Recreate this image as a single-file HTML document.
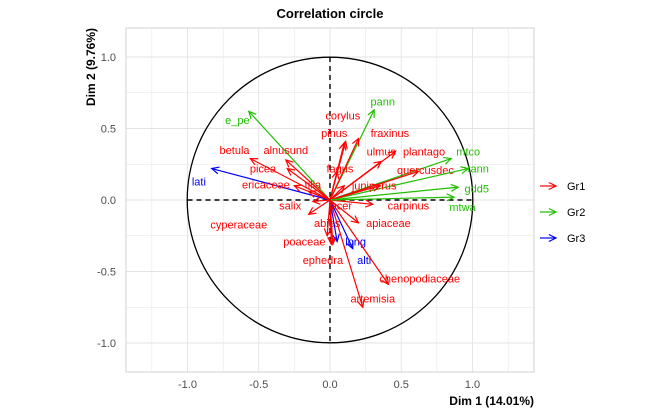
<!DOCTYPE html>
<html><head><meta charset="utf-8"><style>
body{margin:0;background:#fff;font-family:"Liberation Sans",sans-serif}
svg text{font-family:"Liberation Sans",sans-serif}
</style></head><body>
<svg id="c" width="671" height="414" xmlns="http://www.w3.org/2000/svg"></svg>
<script>
const names=["e_pe","pann","corylus","pinus","fraxinus","ulmus","plantago","mtco","quercusdec","tann","betula","alnusund","picea","fagus","lati","ericaceae","tilia","juniperus","gdd5","salix","acer","carpinus","mtwa","cyperaceae","abies","apiaceae","poaceae","long","ephedra","alti","chenopodiaceae","artemisia"];
const groups=["Gr2","Gr2","Gr1","Gr1","Gr1","Gr1","Gr1","Gr2","Gr1","Gr2","Gr1","Gr1","Gr1","Gr1","Gr3","Gr1","Gr1","Gr1","Gr2","Gr1","Gr1","Gr1","Gr2","Gr1","Gr1","Gr1","Gr1","Gr3","Gr1","Gr3","Gr1","Gr1"];
const dim1=[-0.57,0.31,0.11,0.10,0.20,0.36,0.46,0.85,0.62,0.97,-0.56,-0.31,-0.30,0.05,-0.83,-0.25,-0.15,0.35,0.90,-0.12,0.10,0.30,0.87,-0.15,0.01,0.20,-0.02,0.05,0.02,0.16,0.41,0.23];
const dim2=[0.62,0.63,0.41,0.40,0.43,0.27,0.34,0.29,0.20,0.22,0.29,0.28,0.22,0.20,0.22,0.10,0.06,0.10,0.09,-0.01,0.10,-0.03,0.02,-0.10,-0.31,-0.16,-0.25,-0.29,-0.31,-0.34,-0.59,-0.75];
const labX=[-0.65,0.37,0.09,0.03,0.42,0.36,0.66,0.97,0.67,1.04,-0.67,-0.31,-0.47,0.07,-0.92,-0.45,-0.12,0.31,1.03,-0.28,0.08,0.55,0.93,-0.64,-0.02,0.41,-0.18,0.18,-0.05,0.24,0.63,0.30];
const labY=[0.56,0.69,0.59,0.47,0.47,0.34,0.34,0.34,0.21,0.22,0.35,0.35,0.22,0.22,0.13,0.11,0.11,0.10,0.08,-0.04,-0.04,-0.04,-0.05,-0.17,-0.16,-0.16,-0.29,-0.29,-0.42,-0.42,-0.55,-0.69];
const ticks=[-1.0,-0.5,0.0,0.5,1.0];
const tickLabels=["-1.0","-0.5","0.0","0.5","1.0"];
const legendGroups=["Gr1","Gr2","Gr3"];
const colors={Gr1:"#ff0000",Gr2:"#1fbf00",Gr3:"#0000ff"};
const svg=document.getElementById('c');const NS="http://www.w3.org/2000/svg";
const X=v=>330+v*142.5, Y=v=>200-v*143;
function el(t,a,p){const e=document.createElementNS(NS,t);for(const k in a)e.setAttribute(k,a[k]);(p||svg).appendChild(e);return e;}
const L=126,R=534,T=28,B=372;
const grid=el('g',{});


for(let v=-1.25;v<=1.3;v+=0.25){const major=Math.abs(v*2-Math.round(v*2))<1e-6;
 const sw=major?0.9:0.5;
 if(X(v)>L&&X(v)<R)el('line',{x1:X(v),x2:X(v),y1:T,y2:B,stroke:'#e3e3e3','stroke-width':sw},grid);
 if(Y(v)>T&&Y(v)<B)el('line',{y1:Y(v),y2:Y(v),x1:L,x2:R,stroke:'#e3e3e3','stroke-width':sw},grid);}
const frame=el('rect',{x:L,y:T,width:R-L,height:B-T,fill:'none',stroke:'#d0d0d0','stroke-width':1});


ticks.forEach((t,i)=>{
 const a=el('text',{x:X(t),y:388,'font-size':11,fill:'#4d4d4d','text-anchor':'middle'});a.textContent=tickLabels[i];
 
 
 const b=el('text',{x:116,y:Y(t)+4,'font-size':11,fill:'#4d4d4d','text-anchor':'end'});b.textContent=tickLabels[i];
 
 
});
const circ=el('circle',{cx:X(0),cy:Y(0),r:142.8,fill:'none',stroke:'#000','stroke-width':1.3});


const h=el('line',{x1:X(-1),x2:X(1),y1:Y(0),y2:Y(0),stroke:'#000','stroke-width':1.4,'stroke-dasharray':'5,4'});


const v0=el('line',{x1:X(0),x2:X(0),y1:Y(1),y2:Y(-1),stroke:'#000','stroke-width':1.4,'stroke-dasharray':'5,4'});


function arrow(x1,y1,x2,y2,c,g){
 el('line',{x1,y1,x2,y2,stroke:c,'stroke-width':1.2},g);
 const a=Math.atan2(y2-y1,x2-x1),s=8,w=0.45;
 el('polyline',{points:`${x2-s*Math.cos(a-w)},${y2-s*Math.sin(a-w)} ${x2},${y2} ${x2-s*Math.cos(a+w)},${y2-s*Math.sin(a+w)}`,fill:'none',stroke:c,'stroke-width':1.2},g);
}
names.forEach((n,i)=>{
 const c=colors[groups[i]];
 const g=el('g',{});
 
 
 arrow(X(0),Y(0),X(dim1[i]),Y(dim2[i]),c,g);
 const t=el('text',{x:X(labX[i]),y:Y(labY[i])+4,'font-size':11,fill:c,'text-anchor':'middle'},g);t.textContent=n;
 
 
});
legendGroups.forEach((gname,i)=>{
 const g=el('g',{});
 
 
 const y=186+i*26;arrow(540,y,556,y,colors[gname],g);
 const t=el('text',{x:567,y:y+4,'font-size':11,fill:'#000'},g);t.textContent=gname;
});
const title=el('text',{x:330,y:18,'font-size':13,'font-weight':'bold','text-anchor':'middle'});title.textContent="Correlation circle";


const xt=el('text',{x:534,y:405,'font-size':12,'font-weight':'bold','text-anchor':'end'});xt.textContent="Dim 1 (14.01%)";


const yt=el('text',{x:0,y:0,'font-size':12,'font-weight':'bold','text-anchor':'end',transform:'translate(95,28) rotate(-90)'});yt.textContent="Dim 2 (9.76%)";


</script>
</body></html>
